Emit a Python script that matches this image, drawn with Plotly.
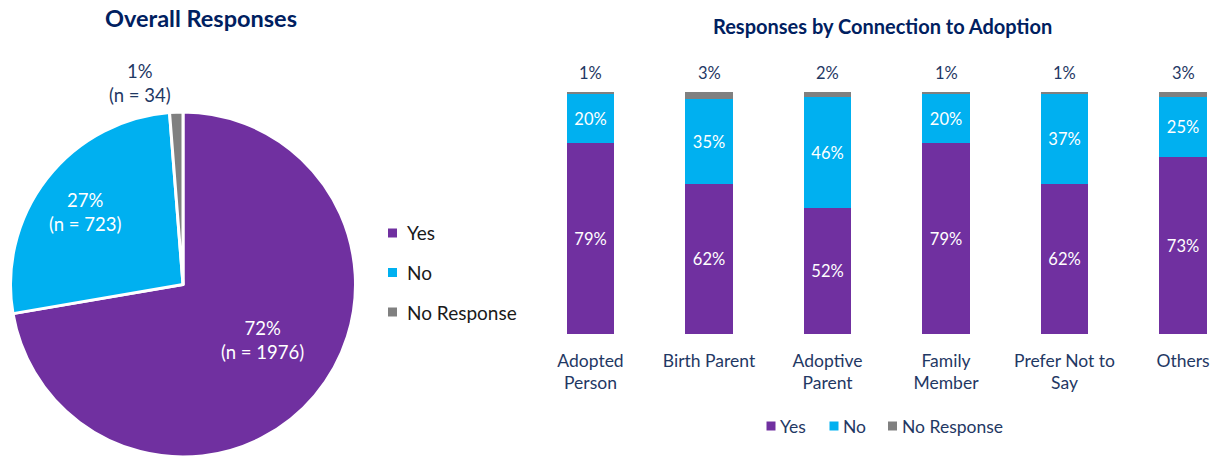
import plotly.graph_objects as go

# Overall responses
pie_labels = ["Yes", "No", "No Response"]
pie_counts = [1976, 723, 34]
pie_pct = ["72%", "27%", "1%"]

# Responses by connection to adoption (percent)
categories = ["Adopted<br>Person", "Birth Parent", "Adoptive<br>Parent",
              "Family<br>Member", "Prefer Not to<br>Say", "Others"]
series_names = ["Yes", "No", "No Response"]
yes_vals = [79, 62, 52, 79, 62, 73]
no_vals = [20, 35, 46, 20, 37, 25]
noresp_vals = [1, 3, 2, 1, 1, 3]

PURPLE = "#7030A0"
BLUE = "#00B0F0"
GREY = "#808080"
NAVY = "#1F3864"
TITLE = "#002060"
FONT = "Lato"
W, H = 1219, 457

colors = [PURPLE, BLUE, GREY]


def px(x):
    return x / W


def py(y):
    return 1 - y / H


def key_entry(cx, cy, label, color, text_color, size, gap):
    """Small colour square followed by its label."""
    fig.add_shape(type="rect", xref="paper", yref="paper",
                  x0=px(cx - 4.5), x1=px(cx + 4.5), y0=py(cy + 4.5), y1=py(cy - 4.5),
                  fillcolor=color, line=dict(width=0))
    fig.add_annotation(x=px(cx + gap), y=py(cy), xref="paper", yref="paper",
                       text=label, showarrow=False, xanchor="left", yanchor="middle",
                       font=dict(color=text_color, size=size, family=FONT))


fig = go.Figure()

fig.add_trace(go.Pie(
    labels=pie_labels, values=pie_counts, sort=False, direction="clockwise",
    rotation=0, marker=dict(colors=colors, line=dict(color="white", width=3)),
    textinfo="none", hoverinfo="label+value+percent", showlegend=False,
    domain=dict(x=[px(10), px(356)], y=[0, 345 / H]),
))

x_idx = list(range(len(categories)))
for name, vals, col in zip(series_names, [yes_vals, no_vals, noresp_vals], colors):
    inside = name != "No Response"
    fig.add_trace(go.Bar(
        x=x_idx, y=vals, name=name, marker=dict(color=col, line=dict(width=0)),
        width=0.4, showlegend=False,
        text=[f"{v}%" for v in vals] if inside else None,
        textposition="inside" if inside else "none",
        insidetextanchor="middle",
        textfont=dict(color="white", size=16.5, family=FONT),
        xaxis="x", yaxis="y",
    ))

# Percent labels above each stacked bar
for i, v in enumerate(noresp_vals):
    total = yes_vals[i] + no_vals[i] + v
    fig.add_annotation(x=i, y=min(total, 100), xref="x", yref="y", text=f"{v}%",
                       showarrow=False, yshift=19, xanchor="center", yanchor="middle",
                       font=dict(color=NAVY, size=16.5, family=FONT))

# Pie slice labels
pie_label_pos = [(262, 340, "white"), (85, 212, "white"), (140, 83, NAVY)]
for (lx, ly, col), pct, n in zip(pie_label_pos, pie_pct, pie_counts):
    fig.add_annotation(x=px(lx), y=py(ly), xref="paper", yref="paper",
                       text=f"{pct}<br>(n = {n})", showarrow=False,
                       xanchor="center", yanchor="middle",
                       font=dict(color=col, size=18.5, family=FONT))

# Pie key (vertical)
for k, (lab, col) in enumerate(zip(pie_labels, colors)):
    key_entry(392.5, 233 + k * 39.5, lab, col, "#1a1a1a", 19, 12)

# Bar key (horizontal, under the axis labels)
for cx, lab, col in zip([771, 834, 892.5], series_names, colors):
    key_entry(cx, 426, lab, col, NAVY, 17.5, 7)

# Titles
fig.add_annotation(x=px(201), y=py(18), xref="paper", yref="paper",
                   text="<b>Overall Responses</b>", showarrow=False,
                   xanchor="center", yanchor="middle",
                   font=dict(color=TITLE, size=23.5, family=FONT))
fig.add_annotation(x=px(882), y=py(26), xref="paper", yref="paper",
                   text="<b>Responses by Connection to Adoption</b>", showarrow=False,
                   xanchor="center", yanchor="middle",
                   font=dict(color=TITLE, size=20, family=FONT))

px_per_unit = (1183 - 590.5) / 5
x0, x1 = 540, 1219
fig.update_layout(
    width=W, height=H, margin=dict(l=0, r=0, t=0, b=0),
    paper_bgcolor="white", plot_bgcolor="white",
    barmode="stack", bargap=0, showlegend=False,
    font=dict(family=FONT, color=NAVY),
    xaxis=dict(domain=[px(x0), px(x1)],
               range=[-(590.5 - x0) / px_per_unit, 5 + (x1 - 1183) / px_per_unit],
               tickmode="array", tickvals=x_idx, ticktext=categories,
               showgrid=False, zeroline=False, showline=False, ticks="",
               ticklabelstandoff=14,
               tickfont=dict(size=17.5, color=NAVY, family=FONT)),
    yaxis=dict(domain=[py(334), py(92)], range=[0, 100],
               visible=False, showgrid=False),
    uniformtext=dict(minsize=10, mode="show"),
)

fig.write_html("out.html")
